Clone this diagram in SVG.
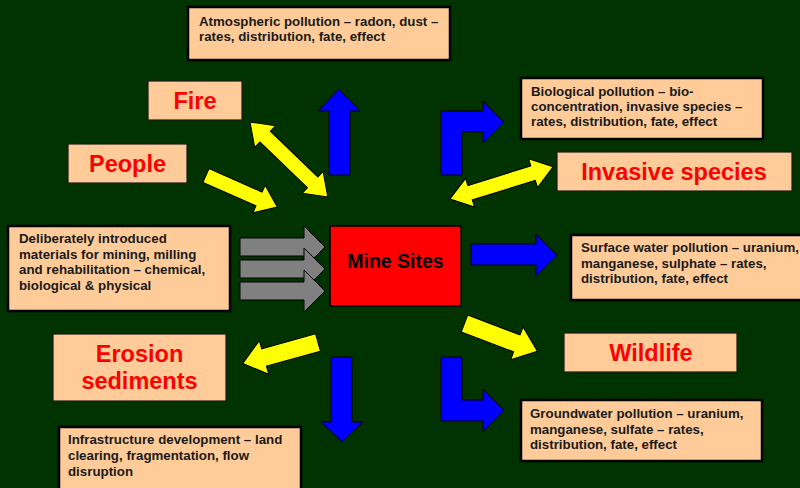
<svg xmlns="http://www.w3.org/2000/svg" width="800" height="488" viewBox="0 0 800 488">
<style>
.bg{fill:#003300}
.box{fill:#FFCC99;stroke:#000;stroke-width:2.5}
.lbl{fill:#FFCC99;stroke:#1a1a1a;stroke-width:1.2}
.core{fill:#FF0000;stroke:#000;stroke-width:1.5}
.t{font-family:"Liberation Sans",Arial,sans-serif;font-weight:bold;font-size:13.3px;fill:#1a1a1a}
.big{font-family:"Liberation Sans",Arial,sans-serif;font-weight:bold;font-size:23.5px;fill:#FF0000;text-anchor:middle}
.mine{font-family:"Liberation Sans",Arial,sans-serif;font-weight:bold;font-size:19.5px;fill:#000;text-anchor:middle}
.blue{fill:#0000FF;stroke:#000;stroke-width:1}
.yel{fill:#FFFF00;stroke:#000;stroke-width:1}
.grey{fill:#808080;stroke:#000;stroke-width:1}
</style>
<defs>
<polygon id="single" points="0,-7.5 58,-7.5 58,-15 78,0 58,15 58,7.5 0,7.5"/>
<polygon id="single-wide" points="0,-9 56,-9 56,-17.5 78,0 56,17.5 56,9 0,9"/>
<polygon id="double" points="0,0 21,-15 21,-7.5 87,-7.5 87,-15 108,0 87,15 87,7.5 21,7.5 21,15"/>
</defs>
<rect class="bg" x="0" y="0" width="800" height="488"/>

<g id="connectors">
  <polygon class="grey" points="240,238 304,238 304,226 325,247 304,268 304,256 240,256"/>
  <polygon class="grey" points="240,260 304,260 304,248 325,269 304,290 304,278 240,278"/>
  <polygon class="grey" points="240,282 304,282 304,270 325,291 304,312 304,300 240,300"/>
  <polygon class="blue" points="329,175 329,111 318,111 339,89 360,111 350,111 350,175"/>
  <polygon class="blue" points="441,175 441,111 483,111 483,101 504,122 483,143 483,132 462,132 462,175"/>
  <polygon class="blue" points="471,244 536,244 536,234 557,255 536,276 536,265 471,265"/>
  <polygon class="blue" points="331,357 352,357 352,422 363,422 342,442 321,422 331,422"/>
  <polygon class="blue" points="441,357 462,357 462,400 483,400 483,389 504,410 483,432 483,421 441,421"/>
  <use href="#double" class="yel" transform="translate(250,122) rotate(43.9)"/>
  <use href="#double" class="yel" transform="translate(450,199) rotate(-17.3)"/>
  <use href="#single" class="yel" transform="translate(206,175.5) rotate(23.9)"/>
  <use href="#single-wide" class="yel" transform="translate(318,342.5) rotate(164.5)"/>
  <use href="#single-wide" class="yel" transform="translate(464.5,323.5) rotate(20.8)"/>
</g>

<g id="mine-sites">
  <rect class="core" x="330" y="226" width="131" height="80"/>
  <text class="mine" x="395.5" y="267.5">Mine Sites</text>
</g>

<g id="atmospheric">
  <rect class="box" x="188" y="7" width="262" height="53"/>
  <text class="t" x="199" y="26">Atmospheric pollution – radon, dust –</text>
  <text class="t" x="199" y="41">rates, distribution, fate, effect</text>
</g>

<g id="biological">
  <rect class="box" x="521" y="78" width="242" height="61"/>
  <text class="t" x="531" y="96">Biological pollution – bio-</text>
  <text class="t" x="531" y="111">concentration, invasive species –</text>
  <text class="t" x="531" y="126">rates, distribution, fate, effect</text>
</g>

<g id="invasive-species">
  <rect class="lbl" x="557" y="152" width="235" height="39"/>
  <text class="big" x="674" y="180">Invasive species</text>
</g>

<g id="fire">
  <rect class="lbl" x="148" y="81" width="94" height="39"/>
  <text class="big" x="195" y="108.5">Fire</text>
</g>

<g id="people">
  <rect class="lbl" x="68" y="144" width="119" height="39"/>
  <text class="big" x="127.5" y="172">People</text>
</g>

<g id="deliberate">
  <rect class="box" x="8" y="226" width="222" height="85"/>
  <text class="t" x="19" y="243">Deliberately introduced</text>
  <text class="t" x="19" y="258.5">materials for mining, milling</text>
  <text class="t" x="19" y="274">and rehabilitation – chemical,</text>
  <text class="t" x="19" y="289.5">biological &amp; physical</text>
</g>

<g id="surface-water">
  <rect class="box" x="571" y="235" width="240" height="65"/>
  <text class="t" x="581" y="252">Surface water pollution – uranium,</text>
  <text class="t" x="581" y="267.5">manganese, sulphate – rates,</text>
  <text class="t" x="581" y="283">distribution, fate, effect</text>
</g>

<g id="wildlife">
  <rect class="lbl" x="564" y="333" width="173" height="39"/>
  <text class="big" x="651" y="360.5">Wildlife</text>
</g>

<g id="groundwater">
  <rect class="box" x="521" y="400" width="241" height="61"/>
  <text class="t" x="530" y="418">Groundwater pollution – uranium,</text>
  <text class="t" x="530" y="433.5">manganese, sulfate – rates,</text>
  <text class="t" x="530" y="449">distribution, fate, effect</text>
</g>

<g id="erosion">
  <rect class="lbl" x="53" y="334" width="173" height="67"/>
  <text class="big" x="139.5" y="361.5">Erosion</text>
  <text class="big" x="139.5" y="389">sediments</text>
</g>

<g id="infrastructure">
  <rect class="box" x="59" y="427" width="242" height="70"/>
  <text class="t" x="68" y="444">Infrastructure development – land</text>
  <text class="t" x="68" y="460">clearing, fragmentation, flow</text>
  <text class="t" x="68" y="476">disruption</text>
</g>
</svg>
